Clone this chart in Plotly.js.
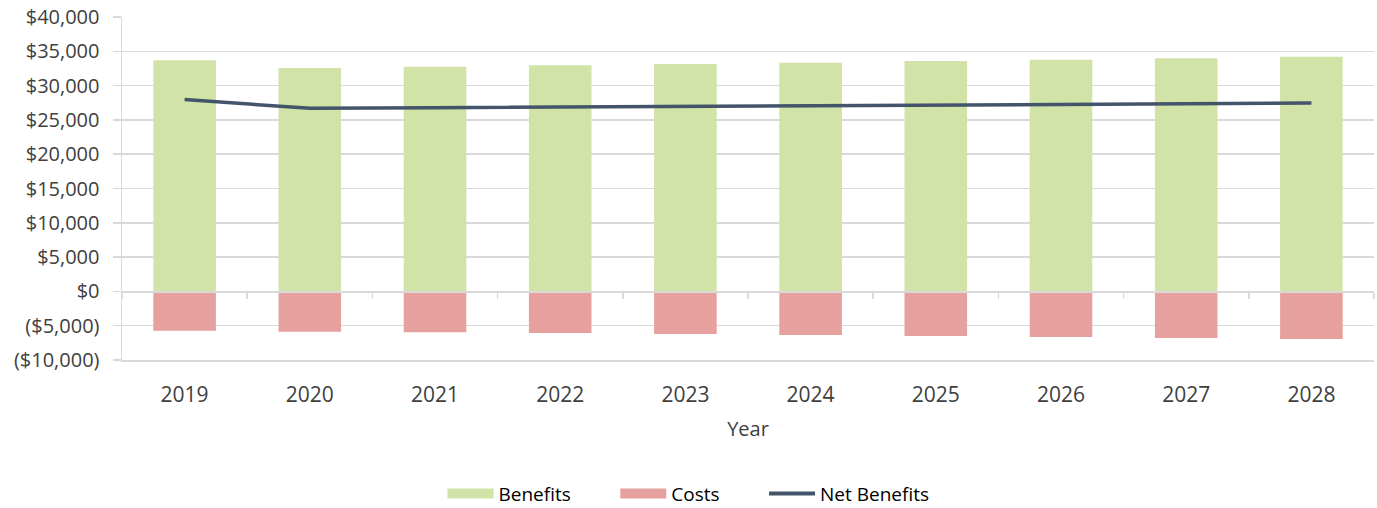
<!DOCTYPE html>
<html>
<head>
<meta charset="utf-8">
<script src="https://cdn.plot.ly/plotly-3.0.1.min.js"></script>
<style>html,body{margin:0;padding:0;background:#fff;}#chart{width:1377px;height:508px;}</style>
</head>
<body>
<div id="chart"></div>
<script>
const years = ['2019','2020','2021','2022','2023','2024','2025','2026','2027','2028'];
const benefits = [33700, 32560, 32750, 32950, 33150, 33340, 33580, 33780, 34000, 34200];
const costs = [-5730, -5870, -5970, -6070, -6200, -6360, -6500, -6650, -6800, -6940];
const netBenefits = [27970, 26690, 26780, 26880, 26980, 27080, 27150, 27250, 27350, 27450];
const yTickVals = [-10000, -5000, 0, 5000, 10000, 15000, 20000, 25000, 30000, 35000, 40000];
const yTickText = ['($10,000)', '($5,000)', '$0', '$5,000', '$10,000', '$15,000', '$20,000', '$25,000', '$30,000', '$35,000', '$40,000'];
const seriesNames = ['Benefits', 'Costs', 'Net Benefits'];

const green = '#d1e3a7', red = '#e6a19f', navy = '#44546a';
const font = '"Open Sans", "Noto Sans", sans-serif';
const empty = years.map(() => null);
const pad = '\u00a0'.repeat(8);
const traces = [
  {type:'bar', name:seriesNames[0], x:years, y:benefits, marker:{color:green}, showlegend:false},
  {type:'bar', name:seriesNames[1], x:years, y:costs, marker:{color:red}, showlegend:false},
  {type:'scatter', mode:'lines', name:seriesNames[2], x:years, y:netBenefits, line:{color:navy, width:3.5}, showlegend:false},
  {type:'scatter', mode:'lines', x:years, y:empty, xaxis:'x2', showlegend:false, hoverinfo:'skip'},
  {type:'scatter', mode:'lines', name:seriesNames[0] + pad, x:years, y:empty, line:{color:green, width:15}},
  {type:'scatter', mode:'lines', name:seriesNames[1] + pad, x:years, y:empty, line:{color:red, width:15}},
  {type:'scatter', mode:'lines', name:seriesNames[2], x:years, y:empty, line:{color:navy, width:4}}
];
const layout = {
  width:1377, height:508,
  margin:{l:122, r:3, t:17, b:148, autoexpand:false},
  paper_bgcolor:'#fff', plot_bgcolor:'#fff',
  barmode:'relative', bargap:0.5,
  font:{family:font, color:'#404040', size:20},
  xaxis:{
    type:'category', showgrid:false, showline:true, linecolor:'#d9d9d9', linewidth:1.5,
    ticks:'', zeroline:false, automargin:false,
    ticklabelstandoff:15,
    tickfont:{size:21, color:'#404040'},
    title:{text:'Year', font:{size:20, color:'#404040'}, standoff:15}
  },
  xaxis2:{
    type:'category', overlaying:'x', anchor:'free', position:0.2, side:'bottom',
    showline:true, linecolor:'#d9d9d9', linewidth:1.5,
    ticks:'outside', tickson:'boundaries', ticklen:6, tickcolor:'#d9d9d9', tickwidth:1.5,
    showticklabels:false, showgrid:false, zeroline:false, matches:'x', automargin:false
  },
  yaxis:{
    range:[-10000, 40000], tickvals:yTickVals, ticktext:yTickText,
    showgrid:true, gridcolor:'#d9d9d9', gridwidth:1.5,
    showline:true, linecolor:'#d9d9d9', linewidth:1.5,
    zeroline:false, ticks:'outside', ticklen:8, tickcolor:'#d9d9d9', tickwidth:1.5,
    ticklabelstandoff:9, automargin:false,
    tickfont:{size:20, color:'#404040'}
  },
  legend:{orientation:'h', xref:'container', x:0.5, xanchor:'center', y:-0.39, yanchor:'middle',
    font:{size:19, color:'#000'}, itemwidth:46, traceorder:'normal'},
  showlegend:true
};
Plotly.newPlot('chart', traces, layout, {displayModeBar:false, staticPlot:true});
</script>
</body>
</html>
